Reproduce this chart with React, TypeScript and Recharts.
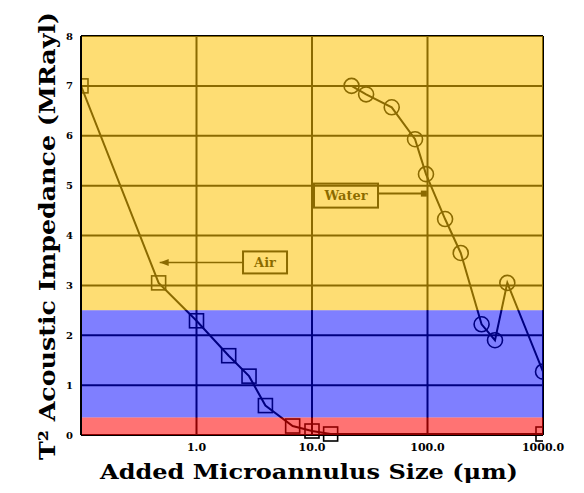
import React from "react";
import {
  LineChart,
  Line,
  XAxis,
  YAxis,
  CartesianGrid,
  ReferenceArea,
  ReferenceLine,
  ReferenceDot,
  Label,
} from "recharts";

// Air curve (squares)
const airSize = [0.1, 0.47, 1.0, 1.9, 2.85, 3.95, 6.8, 10, 14.5, 1000];
const airImp = [7.0, 3.05, 2.29, 1.59, 1.18, 0.59, 0.18, 0.08, 0.02, 0.02];

// Water curve (circles)
const waterSize = [22, 29.4, 49, 78, 97, 142, 194, 294, 384, 491, 1000];
const waterImp = [7.0, 6.83, 6.57, 5.93, 5.23, 4.33, 3.65, 2.22, 1.9, 3.05, 1.27];

const xTicks = [0.1, 1, 10, 100, 1000];
const yTicks = [0, 1, 2, 3, 4, 5, 6, 7, 8];

// colour bands (impedance ranges)
const bands = [
  { from: 2.5, to: 8, color: "#FDC100", opacity: 0.55 },
  { from: 0.35, to: 2.5, color: "#0000FF", opacity: 0.5 },
  { from: 0, to: 0.35, color: "#FF0000", opacity: 0.55 },
];

const airData = airSize.map((x, i) => ({ x, y: airImp[i] }));
const waterData = waterSize.map((x, i) => ({ x, y: waterImp[i] }));

const FONT = "'DejaVu Serif', serif";

const squareDot = (p: any) => (
  <rect
    key={p.key}
    x={p.cx - 7}
    y={p.cy - 7}
    width={14}
    height={14}
    fill="none"
    stroke="#000"
    strokeWidth={1.6}
  />
);

const circleDot = (p: any) => (
  <circle
    key={p.key}
    cx={p.cx}
    cy={p.cy}
    r={7.5}
    fill="none"
    stroke="#000"
    strokeWidth={1.6}
  />
);

const boxShape = (text: string, w: number, h: number) => (p: any) => (
  <g>
    <rect
      x={p.cx - w / 2}
      y={p.cy - h / 2}
      width={w}
      height={h}
      fill="none"
      stroke="#000"
      strokeWidth={2}
    />
    <text
      x={p.cx}
      y={p.cy}
      textAnchor="middle"
      dominantBaseline="central"
      fontFamily={FONT}
      fontWeight="bold"
      fontSize={13}
      fill="#000"
    >
      {text}
    </text>
  </g>
);

const arrowLeft = (p: any) => (
  <polygon
    points={`${p.cx},${p.cy} ${p.cx + 9},${p.cy - 3.5} ${p.cx + 9},${p.cy + 3.5}`}
    fill="#000"
  />
);

const smallSquare = (p: any) => (
  <rect x={p.cx - 3} y={p.cy - 3} width={6} height={6} fill="#000" />
);

export default function App() {
  return (
    <div
      style={{
        position: "absolute",
        left: 0,
        top: 0,
        width: 584,
        height: 493,
        background: "#fff",
      }}
    >
      <LineChart
        width={584}
        height={493}
        margin={{ top: 36, right: 41, bottom: 0, left: 0 }}
      >
        <CartesianGrid stroke="#000" strokeWidth={2} />
        <XAxis
          dataKey="x"
          type="number"
          scale="log"
          domain={[0.1, 1000]}
          ticks={xTicks}
          allowDataOverflow
          height={58}
          tickLine={false}
          axisLine={{ stroke: "#000", strokeWidth: 2 }}
          tickFormatter={(v: number) => (v < 1 ? "" : v.toFixed(1))}
          tick={{ fontFamily: FONT, fontWeight: "bold", fontSize: 11, fill: "#000" }}
        >
          <Label
            content={() => (
              <text
                x={309}
                y={479}
                textAnchor="middle"
                textLength={418}
                lengthAdjust="spacingAndGlyphs"
                fontFamily={FONT}
                fontWeight="bold"
                fontSize={21}
                fill="#000"
              >
                Added Microannulus Size (μm)
              </text>
            )}
          />
        </XAxis>
        <YAxis
          type="number"
          domain={[0, 8]}
          ticks={yTicks}
          width={81}
          tickLine={false}
          axisLine={{ stroke: "#000", strokeWidth: 2 }}
          tick={{ fontFamily: FONT, fontWeight: "bold", fontSize: 10, fill: "#000" }}
          zIndex={1500}
        >
          <Label
            content={() => (
              <text
                x={47}
                y={236}
                transform="rotate(-90 47 236)"
                textAnchor="middle"
                dominantBaseline="central"
                textLength={448}
                lengthAdjust="spacingAndGlyphs"
                fontFamily={FONT}
                fontWeight="bold"
                fontSize={22}
                fill="#000"
              >
                T² Acoustic Impedance (MRayl)
              </text>
            )}
          />
        </YAxis>

        <Line
          data={airData}
          dataKey="y"
          stroke="#000"
          strokeWidth={2}
          dot={squareDot}
          activeDot={false}
          isAnimationActive={false}
        />
        <Line
          data={waterData}
          dataKey="y"
          stroke="#000"
          strokeWidth={2}
          dot={circleDot}
          activeDot={false}
          isAnimationActive={false}
        />

        {/* annotations */}
        <ReferenceLine
          segment={[
            { x: 37.3, y: 4.84 },
            { x: 93, y: 4.84 },
          ]}
          stroke="#000"
          strokeWidth={2}
          zIndex={300}
        />
        <ReferenceDot x={93} y={4.84} r={3} shape={smallSquare} zIndex={300} />
        <ReferenceDot x={19.7} y={4.8} r={1} shape={boxShape("Water", 64, 24)} zIndex={300} />
        <ReferenceLine
          segment={[
            { x: 0.48, y: 3.46 },
            { x: 2.53, y: 3.46 },
          ]}
          stroke="#000"
          strokeWidth={1.6}
          zIndex={300}
        />
        <ReferenceDot x={0.48} y={3.46} r={3} shape={arrowLeft} zIndex={300} />
        <ReferenceDot x={3.92} y={3.46} r={1} shape={boxShape("Air", 44, 22)} zIndex={300} />

        {/* translucent colour bands drawn over everything */}
        {bands.map((b) => (
          <ReferenceArea
            key={b.color}
            x1={0.1}
            x2={1000}
            y1={b.from}
            y2={b.to}
            fill={b.color}
            fillOpacity={b.opacity}
            stroke="none"
            zIndex={1400}
          />
        ))}
      </LineChart>
    </div>
  );
}
